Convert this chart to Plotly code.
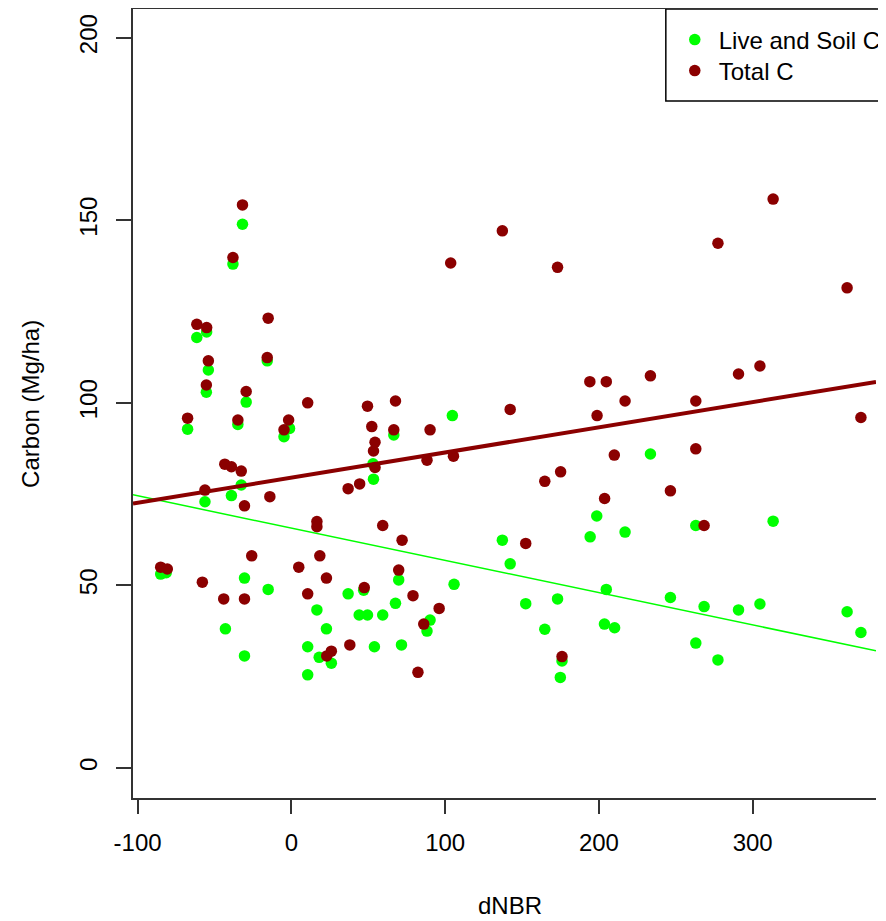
import plotly.graph_objects as go

# ---- data ----
live_x = [-85.0, -81.4, -67.5, -55.3, -29.4, -34.8, -1.2, -4.8, -56.2, -39.0,
          -32.6, -30.5, -15.1, -42.9, -30.5, -31.8, -38.0, -15.7, -55.1, -61.5,
          -54.0, 53.1, 53.4, 66.6, 104.7, 69.8, 105.8, 47.0, 36.9, 16.6,
          67.7, 44.1, 49.5, 59.4, 90.2, 88.2, 22.8, 10.6, 54.0, 71.6,
          18.1, 26.0, 10.6, 233.5, 198.6, 194.3, 217.0, 137.2, 142.3, 204.8,
          246.5, 152.4, 173.1, 164.8, 203.6, 210.2, 263.0, 176.0, 174.9, 263.0,
          313.3, 268.4, 290.8, 304.7, 361.4, 370.4, 277.4]
live_y = [53.1, 53.5, 92.8, 102.9, 100.2, 94.1, 93.0, 90.7, 72.9, 74.6,
          77.5, 52.0, 48.9, 38.1, 30.7, 148.9, 138.0, 111.5, 119.4, 117.9,
          109.0, 83.3, 79.1, 91.2, 96.5, 51.5, 50.3, 48.7, 47.7, 43.3,
          45.1, 41.9, 41.9, 41.9, 40.5, 37.5, 38.1, 33.2, 33.2, 33.7,
          30.3, 28.7, 25.5, 86.0, 69.0, 63.3, 64.6, 62.4, 55.9, 48.9,
          46.7, 45.0, 46.3, 38.0, 39.4, 38.4, 34.2, 29.3, 24.8, 66.4,
          67.6, 44.2, 43.3, 44.9, 42.8, 37.1, 29.6]

total_x = [-85.0, -80.7, -67.5, -55.3, -29.4, -34.8, -1.8, -4.8, -43.3, -39.0,
           -32.6, -56.2, -30.5, -14.0, -25.8, 4.8, -57.9, -44.0, -30.5, -31.8,
           -38.0, -15.1, -15.7, -61.5, -55.1, -54.0, 10.6, 49.5, 67.7, 52.3,
           66.6, 90.2, 54.4, 53.4, 54.4, 88.2, 105.4, 36.9, 44.4, 16.6,
           16.6, 59.4, 72.0, 18.5, 22.8, 69.8, 10.6, 47.4, 79.1, 96.1,
           86.1, 38.0, 26.0, 23.0, 82.3, 103.6, 137.2, 173.1, 194.1, 204.8,
           233.5, 217.0, 142.3, 198.8, 210.0, 175.1, 164.8, 246.5, 203.7, 152.4,
           176.0, 313.3, 277.4, 361.4, 304.7, 290.8, 263.0, 370.4, 263.0, 268.4]
total_y = [55.0, 54.5, 95.8, 104.9, 103.1, 95.3, 95.3, 92.6, 83.2, 82.5,
           81.3, 76.1, 71.8, 74.3, 58.1, 55.0, 50.9, 46.3, 46.3, 154.2,
           139.8, 123.2, 112.4, 121.5, 120.6, 111.5, 100.0, 99.1, 100.5, 93.5,
           92.6, 92.6, 89.2, 86.8, 82.3, 84.3, 85.4, 76.5, 77.8, 67.5,
           66.1, 66.4, 62.4, 58.1, 52.0, 54.2, 47.7, 49.4, 47.2, 43.7,
           39.4, 33.7, 32.0, 30.7, 26.2, 138.3, 147.1, 137.1, 105.8, 105.8,
           107.4, 100.5, 98.2, 96.5, 85.7, 81.1, 78.5, 75.9, 73.8, 61.5,
           30.5, 155.8, 143.7, 131.5, 110.1, 107.9, 100.5, 96.0, 87.4, 66.4]

# fitted lines (intercept, slope)
live_fit = [65.7, -0.0884]
total_fit = [79.5, 0.0690]

x_ticks = [-100, 0, 100, 200, 300]
x_tick_labels = ["-100", "0", "100", "200", "300"]
y_ticks = [0, 50, 100, 150, 200]
y_tick_labels = ["0", "50", "100", "150", "200"]
x_range = [-103.0, 380.2]
y_range = [-8.22, 207.86]

series_names = ["Live and Soil C", "Total C"]
GREEN = "#00FF00"
DARKRED = "#8B0000"
FONT = "Liberation Sans, Arial, sans-serif"

# page body has an 8px margin, so the figure is 8px smaller than the window
W, H = 878, 913
L, T, B = 125, 1, 790
pw = W - L
ph = B - T


def px_x(p):
    return (p - L) / pw


def px_y(p):
    return (B - p) / ph


fig = go.Figure()
fig.add_trace(go.Scatter(x=live_x, y=live_y, mode="markers", name=series_names[0],
                         legend="legend",
                         marker=dict(color=GREEN, size=11.5, line=dict(width=0))))
fig.add_trace(go.Scatter(x=total_x, y=total_y, mode="markers", name=series_names[1],
                         legend="legend2",
                         marker=dict(color=DARKRED, size=11.5, line=dict(width=0))))
fig.add_trace(go.Scatter(x=x_range, y=[live_fit[0] + live_fit[1] * v for v in x_range],
                         mode="lines", line=dict(color=GREEN, width=1.5), showlegend=False,
                         hoverinfo="skip"))
fig.add_trace(go.Scatter(x=x_range, y=[total_fit[0] + total_fit[1] * v for v in x_range],
                         mode="lines", line=dict(color=DARKRED, width=4), showlegend=False,
                         hoverinfo="skip"))

leg_common = dict(xanchor="left", yanchor="middle", bgcolor="rgba(0,0,0,0)",
                  borderwidth=0, itemwidth=38,
                  font=dict(family=FONT, size=24, color="black"))

fig.update_layout(
    width=W, height=H,
    margin=dict(l=L, r=0, t=T, b=H - B, pad=0),
    paper_bgcolor="white", plot_bgcolor="white",
    font=dict(family=FONT, size=24, color="black"),
    showlegend=True,
    legend=dict(x=px_x(670), y=px_y(32), **leg_common),
    legend2=dict(x=px_x(670), y=px_y(63), **leg_common),
    shapes=[dict(type="rect", xref="paper", yref="paper",
                 x0=px_x(665), x1=1.05, y0=px_y(93), y1=1.0,
                 line=dict(color="black", width=1.5), fillcolor="white", layer="below")],
    annotations=[
        dict(text="dNBR", xref="paper", yref="paper", x=px_x(507), y=px_y(897),
             showarrow=False, xanchor="center", yanchor="middle",
             font=dict(family=FONT, size=24, color="black")),
        dict(text="Carbon (Mg/ha)", xref="paper", yref="paper", x=px_x(21), y=0.5,
             showarrow=False, xanchor="center", yanchor="middle", textangle=-90,
             font=dict(family=FONT, size=24, color="black")),
    ],
)
fig.update_xaxes(range=x_range, tickvals=x_ticks, ticktext=x_tick_labels,
                 ticks="outside", ticklen=14,
                 tickwidth=1.5, tickcolor="#333", showline=True, linecolor="#333",
                 linewidth=1.5, mirror=True, showgrid=False, zeroline=False,
                 tickfont=dict(family=FONT, size=24, color="black"), ticklabelstandoff=8)
fig.update_yaxes(range=y_range, tickvals=y_ticks, ticktext=y_tick_labels,
                 ticks="outside", ticklen=15,
                 tickwidth=1.5, tickcolor="#333", showline=True, linecolor="#333",
                 linewidth=1.5, mirror=False, showgrid=False, zeroline=False,
                 tickangle=-90, tickfont=dict(family=FONT, size=24, color="black"),
                 ticklabelstandoff=10)

fig.write_html("out.html")
